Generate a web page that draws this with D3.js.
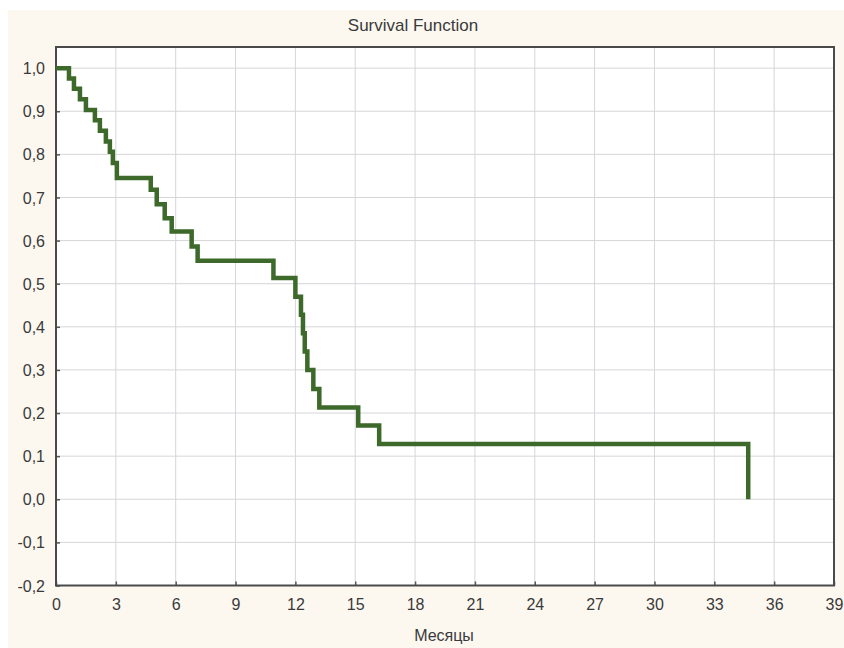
<!DOCTYPE html>
<html>
<head>
<meta charset="utf-8">
<script src="https://cdn.jsdelivr.net/npm/d3@7"></script>
<style>
  html, body { margin: 0; padding: 0; background: #ffffff; }
  svg { display: block; }
  text { font-family: "Liberation Sans", Arial, sans-serif; fill: #3a3a3a; }
</style>
</head>
<body>
<svg id="chart" width="844" height="648"></svg>
<script>
// Kaplan–Meier survival estimate: time of each step (months) and survival after it
const stepTimes = [0, 0.65, 0.9, 1.2, 1.5, 1.95, 2.2, 2.5, 2.7, 2.85, 3.05,
                   4.75, 5.05, 5.45, 5.8, 6.8, 7.1, 10.9, 12.0,
                   12.28, 12.38, 12.47, 12.6, 12.9, 13.2, 15.15, 16.2, 34.7];
const survival = [1.0, 0.976, 0.952, 0.928, 0.903, 0.879, 0.855, 0.83, 0.806, 0.78, 0.745,
                  0.718, 0.684, 0.652, 0.621, 0.586, 0.553, 0.513, 0.470,
                  0.428, 0.385, 0.343, 0.300, 0.256, 0.213, 0.171, 0.128, 0.0];

const xTicks = [0, 3, 6, 9, 12, 15, 18, 21, 24, 27, 30, 33, 36, 39];
const yTicks = [-0.2, -0.1, 0.0, 0.1, 0.2, 0.3, 0.4, 0.5, 0.6, 0.7, 0.8, 0.9, 1.0];

const chartTitle = "Survival Function";
const xTitle = "Месяцы";

const svg = d3.select("#chart");
const W = 844, H = 648;
const plot = { left: 56, right: 834, top: 47, bottom: 585.5 };

// cream page background
svg.append("rect").attr("x", 8).attr("y", 10).attr("width", W - 8).attr("height", H - 10)
  .attr("fill", "#fcf8f0");

const x = d3.scaleLinear().domain([0, 39]).range([plot.left, plot.right]);
const y = d3.scaleLinear().domain([-0.2, 1.049]).range([plot.bottom, plot.top]);

// plot area
svg.append("rect")
  .attr("x", plot.left).attr("y", plot.top)
  .attr("width", plot.right - plot.left).attr("height", plot.bottom - plot.top)
  .attr("fill", "#ffffff");

// grid
const grid = svg.append("g").attr("stroke", "#d6d6da").attr("stroke-width", 1);
grid.selectAll("line.v").data(xTicks.slice(1, -1)).join("line")
  .attr("x1", d => x(d)).attr("x2", d => x(d))
  .attr("y1", plot.top).attr("y2", plot.bottom);
grid.selectAll("line.h").data(yTicks.slice(1)).join("line")
  .attr("x1", plot.left).attr("x2", plot.right)
  .attr("y1", d => y(d)).attr("y2", d => y(d));

const fmt = d => d3.format(".1f")(d).replace(".", ",").replace("−", "-");

// axes with inward ticks
const xAxis = d3.axisBottom(x).tickValues(xTicks).tickSize(-4).tickPadding(13).tickFormat(d3.format("d"));
const gx = svg.append("g").attr("transform", `translate(0,${plot.bottom})`).call(xAxis);
const yAxis = d3.axisLeft(y).tickValues(yTicks).tickSize(-4).tickPadding(11).tickFormat(fmt);
const gy = svg.append("g").attr("transform", `translate(${plot.left},0)`).call(yAxis);
[gx, gy].forEach(g => {
  g.select(".domain").remove();
  g.selectAll(".tick line").attr("stroke", "#555").attr("stroke-width", 1.5);
  g.selectAll(".tick text").attr("font-size", 16).attr("fill", "#3a3a3a")
    .style("font-family", '"Liberation Sans", Arial, sans-serif');
});
gy.selectAll(".tick text").attr("dy", "0.35em");

// frame
svg.append("rect")
  .attr("x", plot.left).attr("y", plot.top)
  .attr("width", plot.right - plot.left).attr("height", plot.bottom - plot.top)
  .attr("fill", "none").attr("stroke", "#4a4a4a").attr("stroke-width", 2);

// survival curve
const pts = stepTimes.map((t, i) => [t, survival[i]]);
const line = d3.line().x(d => x(d[0])).y(d => y(d[1])).curve(d3.curveStepAfter);
svg.append("path").datum(pts)
  .attr("d", line)
  .attr("fill", "none")
  .attr("stroke", "#3d6a2a")
  .attr("stroke-width", 4.5)
  .attr("stroke-linejoin", "miter");

// titles
svg.append("text").attr("x", 413).attr("y", 31).attr("text-anchor", "middle")
  .attr("font-size", 17).text(chartTitle);
svg.append("text").attr("x", 444).attr("y", 641).attr("text-anchor", "middle")
  .attr("font-size", 16).text(xTitle);
</script>
</body>
</html>
